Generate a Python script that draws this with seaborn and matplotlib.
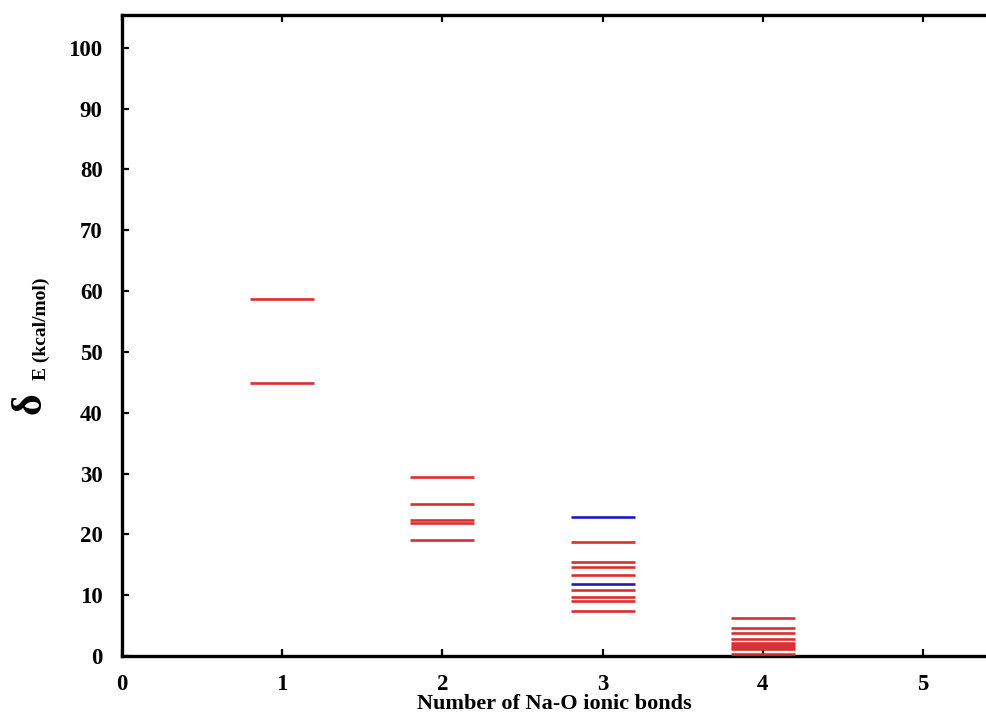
import matplotlib
matplotlib.use("Agg")
import matplotlib.pyplot as plt
import seaborn as sns
import pandas as pd

# Data
bonds_red = [1, 1,
             2, 2, 2, 2, 2,
             3, 3, 3, 3, 3, 3, 3, 3,
             4, 4, 4, 4, 4, 4, 4, 4, 4]
energy_red = [58.7, 44.85,
              29.5, 25.0, 22.4, 21.9, 19.0,
              18.75, 15.5, 14.6, 13.3, 10.8, 9.7, 9.0, 7.4,
              6.3, 4.55, 3.7, 2.85, 2.2, 1.8, 1.4, 1.1, 0.3]
bonds_blue = [3, 3]
energy_blue = [22.9, 11.9]

xticks = [0, 1, 2, 3, 4, 5]
yticks = [0, 10, 20, 30, 40, 50, 60, 70, 80, 90, 100]

df = pd.DataFrame({
    "bonds": bonds_red + bonds_blue,
    "energy": energy_red + energy_blue,
    "kind": ["red"] * len(bonds_red) + ["blue"] * len(bonds_blue),
})

sns.set_theme(style="white")
plt.rcParams["font.family"] = ["Liberation Serif", "DejaVu Serif"]
plt.rcParams["font.weight"] = "bold"
for k in ["text.color", "axes.labelcolor", "xtick.color", "ytick.color"]:
    plt.rcParams[k] = "black"

DPI = 100
fig = plt.figure(figsize=(987 / DPI, 714 / DPI), dpi=DPI)
ax = fig.add_axes([122 / 987, (714 - 656) / 714, (987 - 122) / 987, (656 - 15) / 714])

xmax = 5.4
ax.set_xlim(0, xmax)
ax.set_ylim(0, 105.4)

# marker length = 0.4 data units in x
px_per_unit = (987 - 122) / xmax
mlen_pt = 0.4 * px_per_unit * 72 / DPI
sns.scatterplot(data=df, x="bonds", y="energy", hue="kind",
                palette={"red": "#dc2e2e", "blue": "#1c1cc4"},
                marker="_", s=mlen_pt ** 2, linewidth=1.9,
                legend=False, ax=ax, zorder=3)

ax.set_xticks(xticks)
ax.set_yticks(yticks)
ax.set_xticklabels([str(t) for t in xticks], fontsize=16.5, fontweight="bold")
ax.set_yticklabels([str(t) for t in yticks], fontsize=16.5, fontweight="bold")
ax.tick_params(axis="both", direction="in", length=5, width=1.6, color="black",
               labelcolor="black", top=True, right=False, bottom=True, left=True)
ax.tick_params(axis="x", pad=13)
ax.tick_params(axis="y", pad=14)

for side in ["left", "bottom", "top"]:
    ax.spines[side].set_visible(True)
    ax.spines[side].set_color("black")
    ax.spines[side].set_linewidth(2.4)
ax.spines["right"].set_visible(False)

ax.set_xlabel("Number of Na-O ionic bonds", fontsize=16, fontweight="bold",
              labelpad=-1, color="black")
ax.set_ylabel("")

fig.text(30 / 987, (714 - 414) / 714, "δ", rotation=90, fontsize=30, fontweight="bold",
         ha="center", va="bottom", color="black")
fig.text(41 / 987, (714 - 380) / 714, "E (kcal/mol)", rotation=90, fontsize=14,
         fontweight="bold", ha="center", va="bottom", color="black")

fig.savefig("out.png", dpi=DPI)
